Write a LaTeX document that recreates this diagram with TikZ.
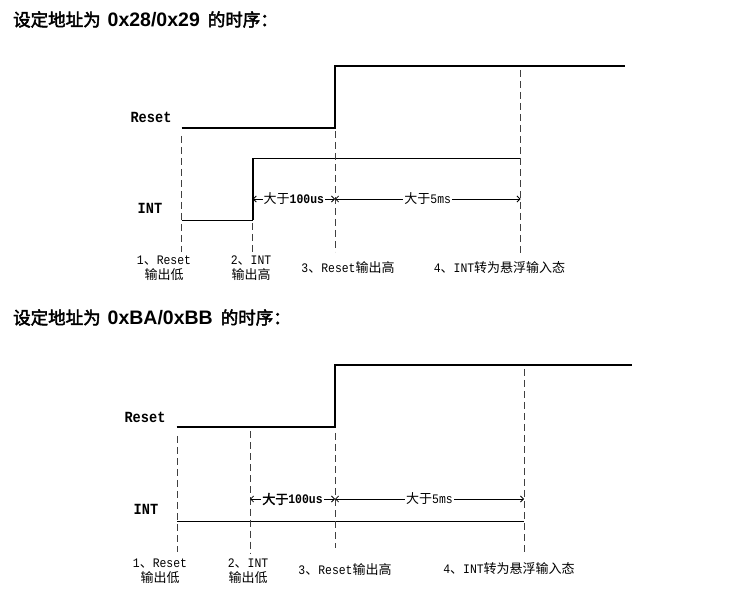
\documentclass[tikz,border=0pt]{standalone}
\usepackage{fontspec}
\usetikzlibrary{arrows.meta}
\newfontfamily\cjk[AutoFakeBold=2.5]{Noto Sans CJK SC}
\newfontfamily\latinsans{Liberation Sans}
\newfontfamily\latinmono[Scale=1.0,FakeStretch=0.88]{Liberation Mono}
\newcommand\hz[1]{{\cjk #1}}
\newcommand\lm[1]{{\latinmono #1}}
\newcommand\lmb[1]{{\latinmono\bfseries #1}}
\newcommand\headline[1]{%
  {\fontsize{17.5}{20}\selectfont\cjk\bfseries 设定地址为}\hspace{7pt}%
  {\fontsize{19.5}{20}\selectfont\latinsans\bfseries #1}\hspace{8pt}%
  {\fontsize{17.5}{20}\selectfont\cjk\bfseries 的时序：}}

\begin{document}
\begin{tikzpicture}[x=1pt,y=-1pt,
  wavethick/.style={line width=2pt},
  wavethin/.style={line width=1.3pt},
  guide/.style={line width=0.9pt, dash pattern=on 7pt off 4pt, black!75},
  dimline/.style={line width=0.8pt,
    {Straight Barb[length=3pt,width=6pt]}-{Straight Barb[length=3pt,width=6pt]}},
  dimtext/.style={fill=white, inner sep=1pt, font=\fontsize{13}{15}\selectfont},
  siglabel/.style={font=\fontsize{15.5}{16}\selectfont\latinmono\bfseries, inner sep=0},
  steplabel/.style={align=center, font=\fontsize{13}{15}\selectfont, inner sep=0},
  heading/.style={anchor=west, inner sep=0}]
\useasboundingbox (0,0) rectangle (742,609);

% ---------- first timing chart: address 0x28/0x29 ----------
\node[heading] (title1) at (13,19.5) {\headline{0x28/0x29}};

\node[siglabel] (rst1) at (151,117) {Reset};
\node[siglabel] (int1) at (150,208) {INT};

% Reset waveform
\coordinate (r1a) at (181.7,128.3);
\coordinate (r1b) at (335,128.3);
\coordinate (r1c) at (335,66.3);
\coordinate (r1d) at (625,66.3);
\draw[wavethick] (r1a) -- (r1b) -- (r1c) -- (r1d);

% INT waveform
\coordinate (i1a) at (181.7,220.3);
\coordinate (i1b) at (252.7,220.3);
\coordinate (i1c) at (252.7,158.3);
\coordinate (i1d) at (520.5,158.3);
\draw[wavethin] (i1a) -- (i1b);
\draw[wavethick] (i1b) -- (i1c);
\draw[wavethin] (i1c) -- (i1d);

% event markers
\coordinate (g1a) at (181.7,136);  \coordinate (g1b) at (181.7,252);
\coordinate (g2a) at (252.7,223);  \coordinate (g2b) at (252.7,252);
\coordinate (g3a) at (335,131);    \coordinate (g3b) at (335,252);
\coordinate (g4a) at (520.5,70);   \coordinate (g4b) at (520.5,253);
\draw[guide] (g1a) -- (g1b);
\draw[guide] (g2a) -- (g2b);
\draw[guide] (g3a) -- (g3b);
\draw[guide] (g4a) -- (g4b);

% intervals
\coordinate (m1a) at (252.7,199);
\coordinate (m1b) at (335,199);
\coordinate (m1c) at (520.5,199);
\draw[dimline] (m1a) -- node[dimtext] (d1a) {\hz{大于}\lmb{100us}} (m1b);
\draw[dimline] (m1b) -- node[dimtext] (d1b) {\hz{大于}\lm{5ms}} (m1c);

% step captions
\node[steplabel] (s11) at (164,268.5) {\lm{1}\hz{、}\lm{Reset}\\\hz{输出低}};
\node[steplabel] (s12) at (251,268.5) {\lm{2}\hz{、}\lm{INT}\\\hz{输出高}};
\node[steplabel] (s13) at (348,268) {\lm{3}\hz{、}\lm{Reset}\hz{输出高}};
\node[steplabel] (s14) at (499.5,268) {\lm{4}\hz{、}\lm{INT}\hz{转为悬浮输入态}};

% ---------- second timing chart: address 0xBA/0xBB ----------
\node[heading] (title2) at (13,317.5) {\headline{0xBA/0xBB}};

\node[siglabel] (rst2) at (145,417) {Reset};
\node[siglabel] (int2) at (146,509) {INT};

% Reset waveform
\coordinate (r2a) at (176.7,427.5);
\coordinate (r2b) at (334.5,427.5);
\coordinate (r2c) at (334.5,365);
\coordinate (r2d) at (632,365);
\draw[wavethick] (r2a) -- (r2b) -- (r2c) -- (r2d);

% INT stays low
\coordinate (i2a) at (177.3,521.7);
\coordinate (i2b) at (524,521.7);
\draw[wavethin] (i2a) -- (i2b);

% event markers
\coordinate (h1a) at (177.7,436);  \coordinate (h1b) at (177.7,552);
\coordinate (h2a) at (250,431.5);  \coordinate (h2b) at (250,553);
\coordinate (h3a) at (335,433);    \coordinate (h3b) at (335,548);
\coordinate (h4a) at (524,369);    \coordinate (h4b) at (524,555);
\draw[guide] (h1a) -- (h1b);
\draw[guide] (h2a) -- (h2b);
\draw[guide] (h3a) -- (h3b);
\draw[guide] (h4a) -- (h4b);

% intervals
\coordinate (m2a) at (250,499);
\coordinate (m2b) at (335,499);
\coordinate (m2c) at (524,499);
\draw[dimline] (m2a) -- node[dimtext] (d2a) {\hz{\bfseries 大于}\lmb{100us}} (m2b);
\draw[dimline] (m2b) -- node[dimtext] (d2b) {\hz{大于}\lm{5ms}} (m2c);

% step captions
\node[steplabel] (s21) at (160,571) {\lm{1}\hz{、}\lm{Reset}\\\hz{输出低}};
\node[steplabel] (s22) at (248,571) {\lm{2}\hz{、}\lm{INT}\\\hz{输出低}};
\node[steplabel] (s23) at (345,570) {\lm{3}\hz{、}\lm{Reset}\hz{输出高}};
\node[steplabel] (s24) at (509,568.5) {\lm{4}\hz{、}\lm{INT}\hz{转为悬浮输入态}};
\end{tikzpicture}
\end{document}
